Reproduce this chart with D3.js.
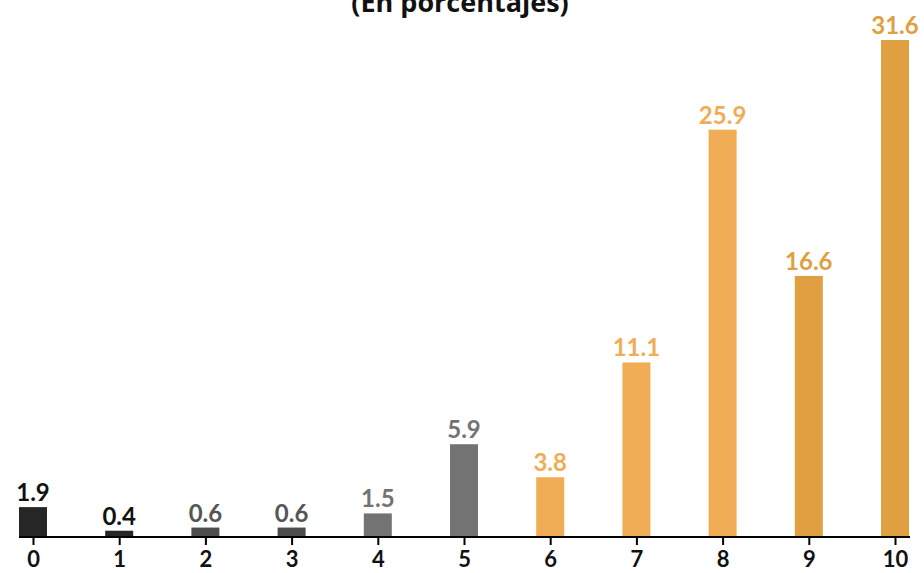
<!DOCTYPE html>
<html>
<head>
<meta charset="utf-8">
<script src="https://cdn.jsdelivr.net/npm/d3@7"></script>
<style>
  body { margin: 0; background: #fff; }
</style>
</head>
<body>
<svg id="chart" width="924" height="573"></svg>
<script>
const categories = ['0', '1', '2', '3', '4', '5', '6', '7', '8', '9', '10'];
const values = [1.9, 0.4, 0.6, 0.6, 1.5, 5.9, 3.8, 11.1, 25.9, 16.6, 31.6];
const barColors = ['#262626', '#262626', '#4d4d4d', '#4d4d4d', '#737373', '#737373',
  '#f0ad56', '#f0ad56', '#f0ad56', '#e09f41', '#e09f41'];
const labelColors = ['#111111', '#111111', '#555555', '#555555', '#737373', '#737373',
  '#f0ad56', '#f0ad56', '#f0ad56', '#e09f41', '#e09f41'];
const title = '(En porcentajes)';

const data = categories.map((c, i) => ({ cat: c, value: values[i], i }));

const svg = d3.select('#chart');
const baseY = 537;
const barW = 28;

const x = d3.scalePoint().domain(categories).range([33, 895]);
const y = d3.scaleLinear().domain([0, 31.6]).range([baseY, 40]);

// Title (partly cut at the top, as in the source)
svg.append('text')
  .attr('x', 460)
  .attr('y', 12)
  .attr('text-anchor', 'middle')
  .attr('font-family', 'Open Sans, sans-serif')
  .attr('font-weight', 'bold')
  .attr('font-size', 27)
  .attr('fill', '#111')
  .text(title);

// Bars
svg.append('g')
  .selectAll('rect')
  .data(data)
  .join('rect')
  .attr('x', (d) => x(d.cat) - barW / 2)
  .attr('y', (d) => y(d.value))
  .attr('width', barW)
  .attr('height', (d) => y(0) - y(d.value))
  .attr('fill', (d) => barColors[d.i]);

// Value labels
svg.append('g')
  .attr('font-family', 'Lato, sans-serif')
  .attr('font-weight', 'bold')
  .attr('font-size', 24)
  .attr('text-anchor', 'middle')
  .selectAll('text')
  .data(data)
  .join('text')
  .attr('x', (d) => x(d.cat))
  .attr('y', (d) => y(d.value) - 6)
  .attr('fill', (d) => labelColors[d.i])
  .text((d) => d3.format('.1f')(d.value));

// X axis
svg.append('g')
  .attr('transform', `translate(0,${baseY})`)
  .call(d3.axisBottom(x).tickSize(8).tickPadding(6))
  .call((g) => g.select('.domain').remove())
  .call((g) => g.selectAll('.tick line').attr('stroke', '#000').attr('stroke-width', 2))
  .call((g) => g.selectAll('.tick text')
    .attr('font-family', 'Lato, sans-serif')
    .attr('font-weight', 'bold')
    .attr('font-size', 22)
    .attr('fill', '#111'));

svg.append('line')
  .attr('x1', x('0') - 14)
  .attr('x2', x('10') + 15)
  .attr('y1', baseY)
  .attr('y2', baseY)
  .attr('stroke', '#000')
  .attr('stroke-width', 2);
</script>
</body>
</html>
